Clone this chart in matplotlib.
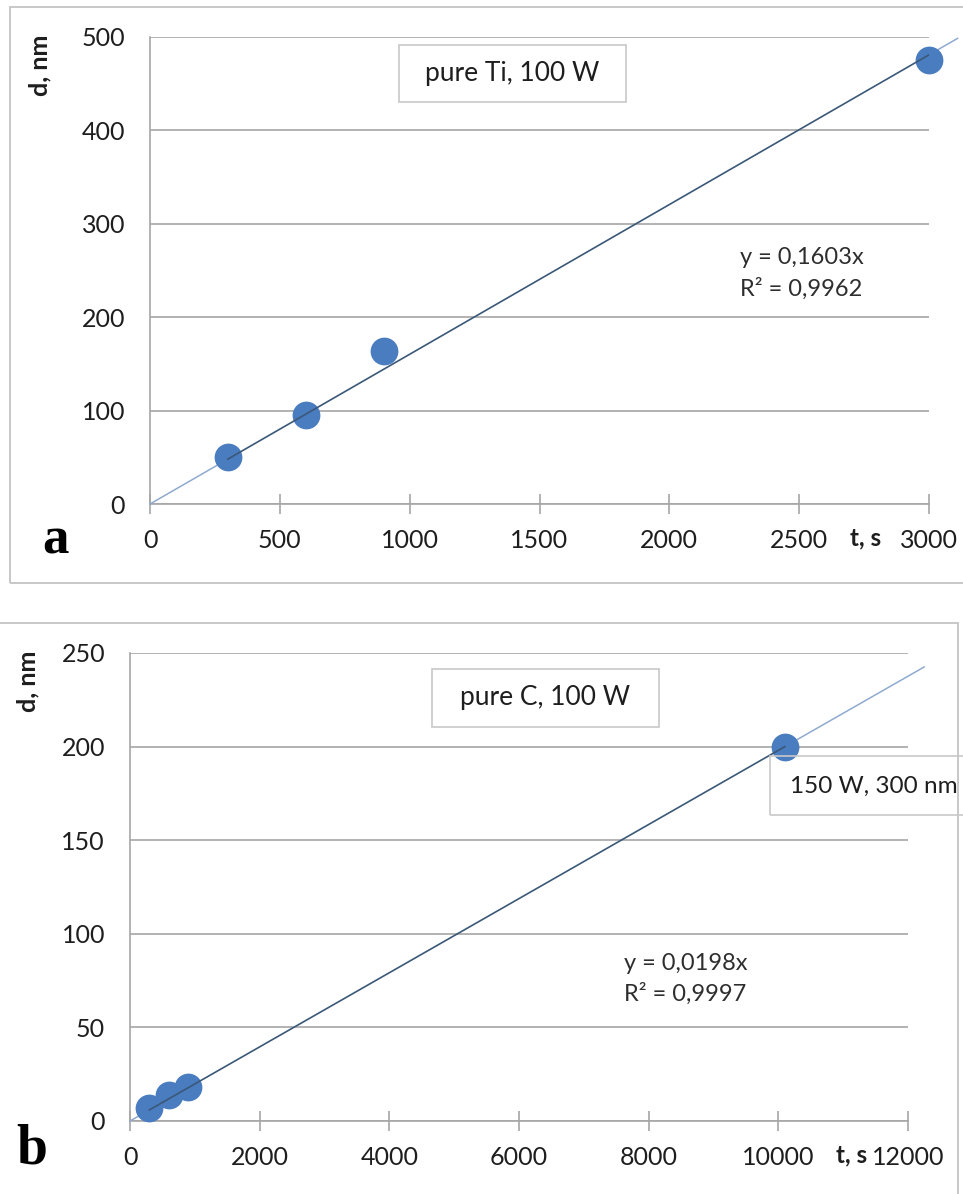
import matplotlib
matplotlib.use("agg")
import matplotlib.pyplot as plt
from matplotlib.patches import Rectangle

# panel a: pure Ti, 100 W
time_ti = [300, 600, 900, 3000]
thick_ti = [50, 95, 164, 475]
slope_ti = 0.1603
r2_ti = "0,9962"
fit_end_ti = 3110

# panel b: pure C, 100 W (last point: 150 W, 300 nm)
time_c = [300, 600, 900, 10100]
thick_c = [7, 14, 18, 200]
slope_c = 0.0198
r2_c = "0,9997"
fit_end_c = 12250

xticks_ti = [0, 500, 1000, 1500, 2000, 2500, 3000]
yticks_ti = [0, 100, 200, 300, 400, 500]
xticks_c = [0, 2000, 4000, 6000, 8000, 10000, 12000]
yticks_c = [0, 50, 100, 150, 200, 250]

W, H = 963, 1194
plt.rcParams["font.family"] = ["Lato", "DejaVu Sans"]
fig = plt.figure(figsize=(W / 100, H / 100), dpi=100)

GRID = "#A6A6A6"
DOT = "#4A7CC0"
FIT = "#3B5878"
FIT_LIGHT = "#8FAAD0"
TXT = "#1E1E1E"


def fx(x):
    return x / W


def fy(y):
    return 1 - y / H


def frame(x0, y0, x1, y1, color="#BFBFBF", lw=1.2):
    fig.patches.append(Rectangle((fx(x0), fy(y1)), (x1 - x0) / W, (y1 - y0) / H,
                                 transform=fig.transFigure, fill=False,
                                 edgecolor=color, linewidth=lw))


def panel(left, top, right, bottom, xs, ys, slope, fit_end, xt, yt):
    ax = fig.add_axes([fx(left), fy(bottom), (right - left) / W, (bottom - top) / H])
    ax.set_xlim(xt[0], xt[-1])
    ax.set_ylim(yt[0], yt[-1])
    ax.set_xticks(xt)
    ax.set_yticks(yt)
    ax.set_xticklabels([str(v) for v in xt])
    ax.set_yticklabels([str(v) for v in yt])
    for s in ["top", "right"]:
        ax.spines[s].set_visible(False)
    for s in ["left", "bottom"]:
        ax.spines[s].set_color(GRID)
        ax.spines[s].set_linewidth(1.2)
    ax.grid(axis="y", color=GRID, linewidth=1.2)
    ax.set_axisbelow(True)
    ax.tick_params(axis="x", direction="inout", length=14, width=1.2, color=GRID,
                   pad=11, labelsize=18, labelcolor=TXT)
    ax.tick_params(axis="y", length=0, pad=18, labelsize=18, labelcolor=TXT)
    # trendline through origin, lighter where it is forecast
    x0, x1 = xs[0], xs[-1]
    ax.plot([0, x0], [0, slope * x0], color=FIT_LIGHT, lw=1.1, clip_on=False, zorder=3)
    ax.plot([x1, fit_end], [slope * x1, slope * fit_end], color=FIT_LIGHT, lw=1.1,
            clip_on=False, zorder=3)
    ax.scatter(xs, ys, s=20 ** 2, color=DOT, zorder=4, clip_on=False, linewidths=0)
    ax.plot([x0, x1], [slope * x0, slope * x1], color=FIT, lw=1.2, zorder=5)
    return ax


# outer panel frames
frame(10, 7, 975, 583)
frame(-2, 623, 958, 1210)

ax_a = panel(150, 37, 929, 504, time_ti, thick_ti, slope_ti, fit_end_ti, xticks_ti, yticks_ti)
ax_b = panel(130, 653, 908, 1121, time_c, thick_c, slope_c, fit_end_c, xticks_c, yticks_c)

# axis titles
fig.text(fx(40), fy(65), "d, nm", rotation=90, ha="center", va="center",
         fontsize=18, fontweight="bold", color=TXT)
fig.text(fx(866), fy(538), "t, s", ha="center", va="center", fontsize=17.5,
         fontweight="bold", color=TXT)
fig.text(fx(28), fy(681), "d, nm", rotation=90, ha="center", va="center",
         fontsize=18, fontweight="bold", color=TXT)
fig.text(fx(852), fy(1155), "t, s", ha="center", va="center", fontsize=17.5,
         fontweight="bold", color=TXT)

# panel letters
fig.text(fx(55), fy(540), "a", ha="center", va="center", fontsize=38, fontweight="bold",
         family="Liberation Serif")
fig.text(fx(32), fy(1150), "b", ha="center", va="center", fontsize=40, fontweight="bold",
         family="Liberation Serif")

# title boxes
frame(399, 45, 626, 102, color="#C8C8C8", lw=1.2)
fig.text(fx(512), fy(73), "pure Ti, 100 W", ha="center", va="center", fontsize=19, color=TXT)
frame(432, 669, 659, 727, color="#C8C8C8", lw=1.2)
fig.text(fx(545), fy(697), "pure C, 100 W", ha="center", va="center", fontsize=19, color=TXT)
frame(770, 756, 990, 815, color="#C8C8C8", lw=1.2)
fig.text(fx(790), fy(786), "150 W, 300 nm", ha="left", va="center", fontsize=17.5, color=TXT)

# fit equations
fig.text(fx(740), fy(258), "y = %sx" % str(slope_ti).replace(".", ","), ha="left",
         va="center", fontsize=17, color="#2E2E2E")
fig.text(fx(740), fy(289), "R² = " + r2_ti, ha="left", va="center", fontsize=17,
         color="#2E2E2E")
fig.text(fx(624), fy(963), "y = %sx" % str(slope_c).replace(".", ","), ha="left",
         va="center", fontsize=17, color="#2E2E2E")
fig.text(fx(624), fy(994), "R² = " + r2_c, ha="left", va="center", fontsize=17,
         color="#2E2E2E")

fig.savefig("out.png", dpi=100)
